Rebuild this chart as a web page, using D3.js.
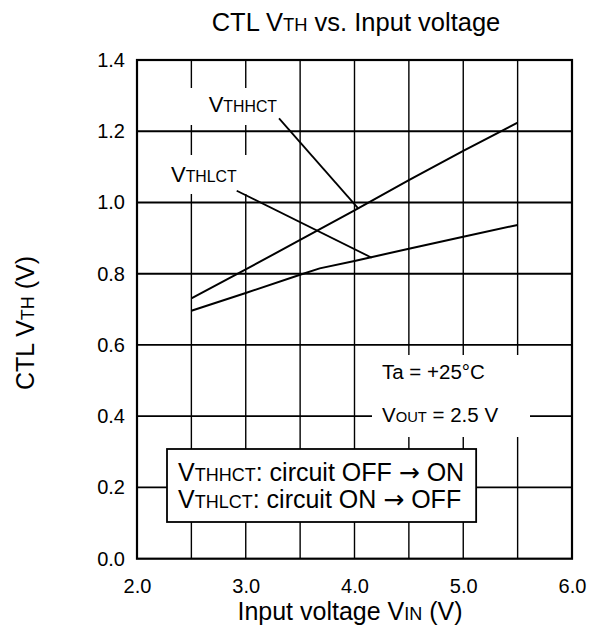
<!DOCTYPE html>
<html><head><meta charset="utf-8">
<script src="https://cdn.jsdelivr.net/npm/d3@7"></script>
<style>
body{margin:0;background:#fff;}
text{font-family:"Liberation Sans",Arial,Helvetica,sans-serif;fill:#000;}
</style></head>
<body><svg id="c" width="590" height="635"></svg>
<script>
const xTicks = [2.0, 3.0, 4.0, 5.0, 6.0];
const yTicks = [0.0, 0.2, 0.4, 0.6, 0.8, 1.0, 1.2, 1.4];
const xGrid = [2.5, 3.0, 3.5, 4.0, 4.5, 5.0, 5.5];
const vinHigh = [2.5, 3.0, 3.5, 4.0, 4.5, 5.0, 5.5];
const vthhct = [0.731, 0.812, 0.895, 0.978, 1.063, 1.145, 1.224];
const vinLow = [2.5, 3.0, 3.5, 3.68, 4.0, 4.5, 5.0, 5.5];
const vthlct = [0.696, 0.746, 0.797, 0.815, 0.836, 0.870, 0.904, 0.937];

const svg = d3.select("#c");
const L = 137, R = 572, T = 60, B = 558.7;
const x = d3.scaleLinear().domain([2, 6]).range([L, R]);
const y = d3.scaleLinear().domain([0, 1.4]).range([B, T]);

const g = svg.append("g");
g.selectAll(".vg").data(xGrid).enter().append("line")
  .attr("x1", d => x(d)).attr("x2", d => x(d)).attr("y1", T).attr("y2", B)
  .attr("stroke", "#000").attr("stroke-width", 1.4);
g.selectAll(".hg").data(yTicks.slice(1, -1)).enter().append("line")
  .attr("x1", L).attr("x2", R).attr("y1", d => y(d)).attr("y2", d => y(d))
  .attr("stroke", "#000").attr("stroke-width", 1.8);

const xAxis = d3.axisBottom(x).tickValues(xTicks).tickFormat(d3.format(".1f")).tickSize(0).tickPadding(20);
const yAxis = d3.axisLeft(y).tickValues(yTicks).tickFormat(d3.format(".1f")).tickSize(0).tickPadding(12);
const gx = svg.append("g").attr("transform", `translate(0,${B})`).call(xAxis);
const gy = svg.append("g").attr("transform", `translate(${L},0)`).call(yAxis);
[gx, gy].forEach(a => {
  a.select(".domain").remove();
  a.selectAll("text").attr("font-size", 20).attr("font-family", "Liberation Sans, Arial, sans-serif").attr("fill", "#000");
});

svg.append("rect").attr("x", 372).attr("y", 355).attr("width", 158).attr("height", 82).attr("fill", "#fff");
svg.append("rect").attr("x", 163).attr("y", 155).attr("width", 88).attr("height", 39).attr("fill", "#fff");
svg.append("rect").attr("x", 184).attr("y", 88).attr("width", 98).attr("height", 37).attr("fill", "#fff");

svg.append("rect").attr("x", L).attr("y", T).attr("width", R - L).attr("height", B - T)
  .attr("fill", "none").attr("stroke", "#000").attr("stroke-width", 2.2);

const line = d3.line().x(d => x(d[0])).y(d => y(d[1]));
svg.append("path").datum(vinHigh.map((v, i) => [v, vthhct[i]]))
  .attr("d", line).attr("fill", "none").attr("stroke", "#000").attr("stroke-width", 2);
svg.append("path").datum(vinLow.map((v, i) => [v, vthlct[i]]))
  .attr("d", line).attr("fill", "none").attr("stroke", "#000").attr("stroke-width", 2);

function rich(sel, parts, size) {
  parts.forEach(p => {
    const t = sel.append("tspan").attr("font-size", p[1] === 1 ? size * 0.72 : size).text(p[0]);
    if (p[1] === 2) t.attr("font-family", "DejaVu Sans");
  });
  return sel;
}

const lab1 = svg.append("text").attr("x", 277).attr("y", 112).attr("text-anchor", "end");
rich(lab1, [["V", 0], ["THHCT", 1]], 22);
const lab2 = svg.append("text").attr("x", 171).attr("y", 181.7);
rich(lab2, [["V", 0], ["THLCT", 1]], 22);

svg.append("line").attr("x1", x(3.306)).attr("y1", y(1.236)).attr("x2", x(4.03)).attr("y2", y(0.985))
  .attr("stroke", "#000").attr("stroke-width", 1.8);
svg.append("line").attr("x1", x(2.917)).attr("y1", y(1.033)).attr("x2", x(4.158)).attr("y2", y(0.845))
  .attr("stroke", "#000").attr("stroke-width", 1.8);

svg.append("text").attr("x", 382).attr("y", 379).attr("font-size", 20.5).text("Ta = +25°C");
const vo = svg.append("text").attr("x", 382).attr("y", 422);
rich(vo, [["V", 0], ["OUT", 1], [" = 2.5 V", 0]], 20.5);

const box = svg.append("rect").attr("x", 167).attr("y", 449).attr("height", 73)
  .attr("fill", "#fff").attr("stroke", "#000").attr("stroke-width", 1.8);
const l1 = svg.append("text").attr("x", 178).attr("y", 481);
rich(l1, [["V", 0], ["THHCT", 1], [": circuit OFF ", 0], ["\u2192", 2], [" ON", 0]], 25);
const l2 = svg.append("text").attr("x", 178).attr("y", 508);
rich(l2, [["V", 0], ["THLCT", 1], [": circuit ON ", 0], ["\u2192", 2], [" OFF", 0]], 25);
const wmax = Math.max(l1.node().getComputedTextLength(), l2.node().getComputedTextLength());
box.attr("width", 178 + wmax + 12 - 167);

const tt = svg.append("text").attr("x", 356).attr("y", 30.7).attr("text-anchor", "middle");
rich(tt, [["CTL V", 0], ["TH", 1], [" vs. Input voltage", 0]], 25.5);

const xt = svg.append("text").attr("x", 350).attr("y", 620).attr("text-anchor", "middle");
rich(xt, [["Input voltage V", 0], ["IN", 1], [" (V)", 0]], 25);

const yt = svg.append("text").attr("transform", `translate(34,323) rotate(-90)`).attr("text-anchor", "middle");
rich(yt, [["CTL V", 0], ["TH", 1], [" (V)", 0]], 25);
</script></body></html>
